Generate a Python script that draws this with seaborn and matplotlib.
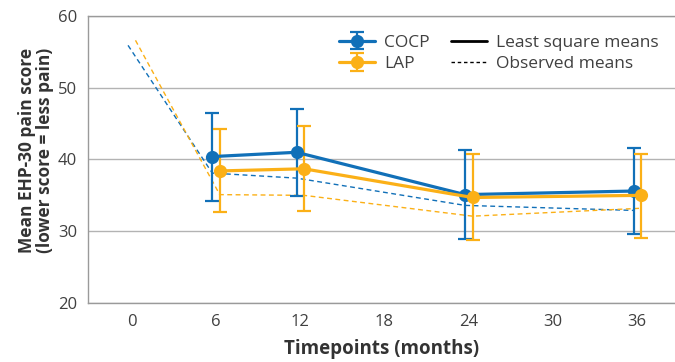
import numpy as np
import pandas as pd
import seaborn as sns
import matplotlib
matplotlib.use('Agg')
import matplotlib.pyplot as plt
from matplotlib.lines import Line2D
from matplotlib.legend_handler import HandlerTuple

# least square means with ranges (6, 12, 24, 36 months)
months_lsm = [6, 12, 24, 36]
cocp_lsm = [40.4, 41.0, 35.1, 35.6]
cocp_lo = [34.2, 34.9, 28.9, 29.6]
cocp_hi = [46.5, 47.1, 41.3, 41.6]
lap_lsm = [38.4, 38.7, 34.7, 35.0]
lap_lo = [32.7, 32.8, 28.8, 29.1]
lap_hi = [44.3, 44.7, 40.7, 40.8]

# observed means (0 to 36 months)
months_obs = [0, 6, 12, 24, 36]
cocp_obs = [55.9, 38.1, 37.4, 33.6, 32.9]
lap_obs = [56.6, 35.1, 35.0, 32.1, 33.2]

groups = ["COCP", "LAP"]
colors = {"COCP": "#1170b8", "LAP": "#fbb017"}
shift = {"COCP": -0.25, "LAP": 0.28}  # dodge so the bars don't overlap

lsm = pd.concat([
    pd.DataFrame({"month": months_lsm, "score": cocp_lsm, "lo": cocp_lo, "hi": cocp_hi, "group": "COCP"}),
    pd.DataFrame({"month": months_lsm, "score": lap_lsm, "lo": lap_lo, "hi": lap_hi, "group": "LAP"}),
])
obs = pd.concat([
    pd.DataFrame({"month": months_obs, "score": cocp_obs, "group": "COCP"}),
    pd.DataFrame({"month": months_obs, "score": lap_obs, "group": "LAP"}),
])
lsm["x"] = lsm["month"] + lsm["group"].map(shift)
obs["x"] = obs["month"] + obs["group"].map(shift)

sns.set_theme(style="white")
plt.rcParams['font.family'] = ['Open Sans', 'DejaVu Sans']

fig = plt.figure(figsize=(6.75, 3.62), dpi=100)
ax = fig.add_axes([0.1304, 0.163, 0.8696, 0.793])

for g in groups:
    d = obs[obs["group"] == g]
    sns.lineplot(data=d, x="x", y="score", color=colors[g], lw=1.0,
                 linestyle=(0, (3.5, 2.5)), ax=ax, legend=False, zorder=2)

handles = []
for g in groups:
    d = lsm[lsm["group"] == g]
    err = ax.errorbar(d["x"], d["score"], yerr=[d["score"] - d["lo"], d["hi"] - d["score"]],
                      fmt="none", ecolor=colors[g], elinewidth=1.6, capsize=5, capthick=1.6, zorder=3)
    sns.lineplot(data=d, x="x", y="score", color=colors[g], lw=2.3, marker="o",
                 markersize=9.5, markeredgewidth=0, ax=ax, legend=False, zorder=4)
    line = ax.lines[-1]
    handles.append((err, line))

solid = Line2D([], [], color="black", lw=2.0)
dashed = Line2D([], [], color="black", lw=1.0, linestyle=(0, (2.5, 2)))

ax.set_xlim(-3.1, 38.7)
ax.set_ylim(20, 60)
ax.set_xticks([0, 6, 12, 18, 24, 30, 36])
ax.set_yticks([20, 30, 40, 50, 60])
ax.yaxis.grid(True, color="#b3b3b3", lw=1.0)
ax.set_axisbelow(True)
for s in ["top", "left", "bottom"]:
    ax.spines[s].set_color("#9a9a9a")
    ax.spines[s].set_linewidth(1.0)
ax.spines["right"].set_visible(False)
ax.tick_params(axis="x", direction="in", length=7, width=1, color="#9a9a9a",
               labelsize=12, labelcolor="#404040", pad=8)
ax.tick_params(axis="y", direction="out", length=4, width=1, color="#9a9a9a",
               labelsize=12, labelcolor="#404040", pad=4)

ax.set_xlabel("Timepoints (months)", fontsize=13.5, fontweight="bold", color="#333333")
ax.xaxis.set_label_coords(0.5, -0.125)
ax.set_ylabel("Mean EHP-30 pain score\n(lower score = less pain)", fontsize=12.5,
              fontweight="bold", color="#333333", linespacing=1.0)
ax.yaxis.set_label_coords(-0.058, 0.533)

leg = ax.legend(handles + [solid, dashed], groups + ["Least square means", "Observed means"],
                ncol=2, loc="upper left", bbox_to_anchor=(0.401, 0.99), frameon=False,
                fontsize=12.5, handlelength=2.1, columnspacing=1.2, handletextpad=0.5,
                labelspacing=0.3, labelcolor="#404040",
                handler_map={tuple: HandlerTuple(ndivide=1, pad=0)})

fig.savefig("out.png", dpi=100)
